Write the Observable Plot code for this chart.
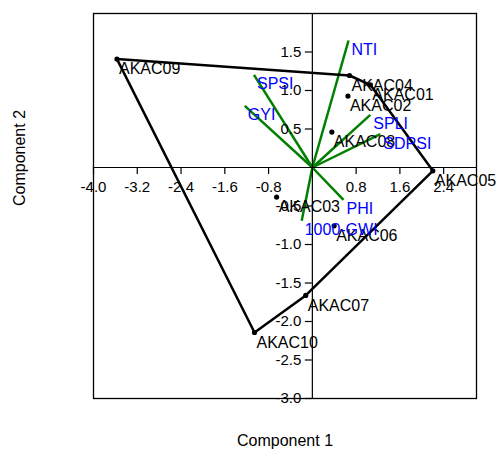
<!DOCTYPE html>
<html><head><meta charset="utf-8">
<script src="https://cdn.jsdelivr.net/npm/d3@7"></script>
<script src="https://cdn.jsdelivr.net/npm/@observablehq/plot@0.6"></script>
<style>html,body{margin:0;padding:0;background:#fff} svg{display:block}</style>
</head><body><div id="chart"></div>
<script>
const sites = ["AKAC01","AKAC02","AKAC03","AKAC04","AKAC05","AKAC06","AKAC07","AKAC08","AKAC09","AKAC10"];
const siteX = [1.06, 0.65, -0.653, 0.679, 2.202, 0.398, -0.121, 0.356, -3.571, -1.057];
const siteY = [1.074, 0.927, -0.384, 1.195, -0.043, -0.757, -1.662, 0.460, 1.408, -2.143];
const traits = ["NTI","SPSI","GYI","SPLI","SDPSI","PHI","1000-GWI"];
const traitX = [0.661, -1.067, -1.235, 1.059, 1.242, 0.569, -0.195];
const traitY = [1.649, 1.204, 0.801, 0.684, 0.434, -0.419, -0.692];
const hullOrder = ["AKAC09","AKAC04","AKAC01","AKAC05","AKAC07","AKAC10","AKAC09"];
const xTicks = [-4.0, -3.2, -2.4, -1.6, -0.8, 0.8, 1.6, 2.4];
const yTicks = [1.5, 1.0, 0.5, -0.5, -1.0, -1.5, -2.0, -2.5, -3.0];
const xTitle = "Component 1";
const yTitle = "Component 2";

const pts = sites.map((s, i) => ({name: s, x: siteX[i], y: siteY[i]}));
const byName = new Map(pts.map(d => [d.name, d]));
const hull = hullOrder.map(n => byName.get(n));
const vecs = traits.map((t, i) => ({name: t, x: traitX[i], y: traitY[i]}));

const chart = Plot.plot({
  width: 496,
  height: 452,
  marginLeft: 93,
  marginRight: 20,
  marginTop: 13,
  marginBottom: 54,
  x: {domain: [-4, 3], axis: null},
  y: {domain: [-3, 2], axis: null},
  style: {fontFamily: "'Liberation Sans', Arial, sans-serif", fontSize: "16px", background: "#fff", color: "black"},
  marks: [
    Plot.link(vecs, {x1: 0, y1: 0, x2: "x", y2: "y", stroke: "#008000", strokeWidth: 2.5}),
    Plot.frame({stroke: "black", strokeWidth: 1.3}),
    Plot.ruleY([0], {stroke: "black", strokeWidth: 1.2}),
    Plot.ruleX([0], {stroke: "black", strokeWidth: 1.2}),
    Plot.ruleX(xTicks, {x: d => d, y1: 0, y2: 0, insetTop: 0, insetBottom: -7, stroke: "black", strokeWidth: 1.2}),
    Plot.ruleY(yTicks, {y: d => d, x1: 0, x2: 0, insetLeft: -7, insetRight: 0, stroke: "black", strokeWidth: 1.2}),
    Plot.text(xTicks, {x: d => d, y: 0, text: d => d.toFixed(1), dy: 20, textAnchor: "middle", fontSize: 15, fill: "black"}),
    Plot.text(yTicks, {x: 0, y: d => d, text: d => d.toFixed(1), dx: -11, textAnchor: "end", fontSize: 15, fill: "black"}),
    Plot.line(hull, {x: "x", y: "y", stroke: "black", strokeWidth: 2.5, strokeLinejoin: "round", curve: "linear"}),
    Plot.dot(pts, {x: "x", y: "y", r: 2.6, fill: "black", stroke: "none"}),
    Plot.text(pts, {x: "x", y: "y", text: "name", dx: 2, dy: 10, textAnchor: "start", fill: "black", fontSize: 16}),
    Plot.text(vecs, {x: "x", y: "y", text: "name", dx: 3, dy: 9.5, textAnchor: "start", fill: "#0000ff", fontSize: 16}),
    Plot.text([xTitle], {frameAnchor: "bottom", text: d => d, dy: 47, fill: "black", fontSize: 16}),
    Plot.text([yTitle], {frameAnchor: "left", text: d => d, dx: -74, rotate: -90, fill: "black", fontSize: 16})
  ]
});
document.getElementById("chart").appendChild(chart);
</script>
</body></html>
